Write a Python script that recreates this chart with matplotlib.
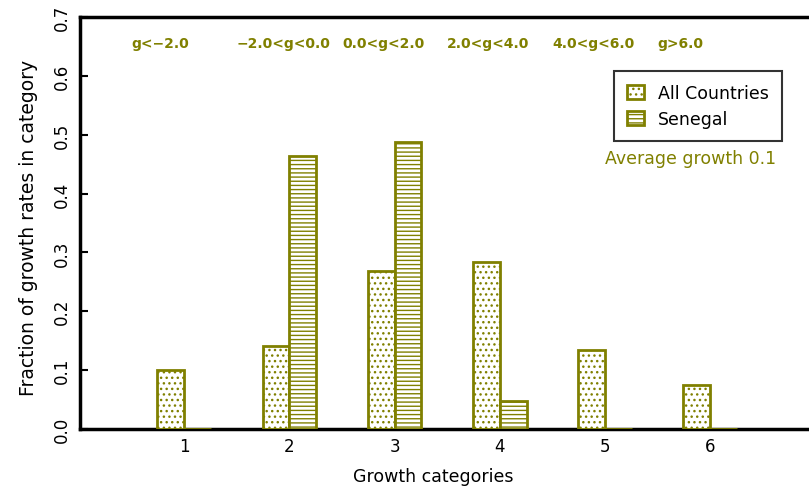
import numpy as np
import matplotlib
matplotlib.use('Agg')
import matplotlib.pyplot as plt

categories = [1, 2, 3, 4, 5, 6]
all_countries = [0.100, 0.141, 0.268, 0.284, 0.134, 0.075]
senegal = [0.0, 0.464, 0.487, 0.048, 0.0, 0.0]
range_labels = ['g<\u22122.0', '\u22122.0<g<0.0', '0.0<g<2.0', '2.0<g<4.0', '4.0<g<6.0', 'g>6.0']
avg_growth = 0.1

olive = '#808000'
plt.rcParams['hatch.linewidth'] = 1.0
plt.rcParams['font.family'] = 'DejaVu Sans'

fig = plt.figure(figsize=(8.09, 4.89), dpi=100)
ax = fig.add_axes([80 / 809, 59 / 489, 729 / 809, 412 / 489])

x = np.array(categories)
w = 0.255
ax.bar(x - w / 2, all_countries, w, color='white', edgecolor=olive, hatch='...', linewidth=2,
       label='All Countries', zorder=3)
ax.bar(x + w / 2, senegal, w, color='white', edgecolor=olive, hatch='----', linewidth=2,
       label='Senegal', zorder=3)

for c, lab in zip(categories, range_labels):
    ax.text(c - 0.5, 0.655, lab, color=olive, fontsize=10, fontweight='bold', ha='left', va='center')

ax.text(5.0, 0.461, 'Average growth ' + str(avg_growth), color=olive, fontsize=12.5, ha='left', va='center')

leg = ax.legend(loc='upper left', bbox_to_anchor=(0.72, 0.89), frameon=True, fancybox=False,
                edgecolor='black', fontsize=12.5, handlelength=1.0, handleheight=0.9, borderpad=0.75,
                labelspacing=0.45, handletextpad=0.8)
leg.get_frame().set_linewidth(1.5)

ax.set_xlim(0.01, 6.94)
ax.set_ylim(0, 0.7)
ax.set_xticks(categories)
ax.set_yticks(np.arange(0, 0.71, 0.1))
ax.set_yticklabels(['%.1f' % v for v in np.arange(0, 0.71, 0.1)], rotation=90, va='center')
ax.tick_params(axis='x', length=0, labelsize=12, pad=6)
ax.tick_params(axis='y', direction='in', length=6, width=1.5, labelsize=12, pad=13)
for lab in ax.get_yticklabels():
    lab.set_horizontalalignment('center')
ax.spines['right'].set_visible(False)
for s in ['left', 'top', 'bottom']:
    ax.spines[s].set_linewidth(2.5)
    ax.spines[s].set_zorder(2)
ax.set_xlabel('Growth categories', fontsize=12.5, va='center')
ax.xaxis.set_label_coords(0.484, -0.114)
ax.set_ylabel('Fraction of growth rates in category', fontsize=13.5)
ax.yaxis.set_label_coords(-0.057, 0.49)

fig.savefig('out.png', dpi=100)
